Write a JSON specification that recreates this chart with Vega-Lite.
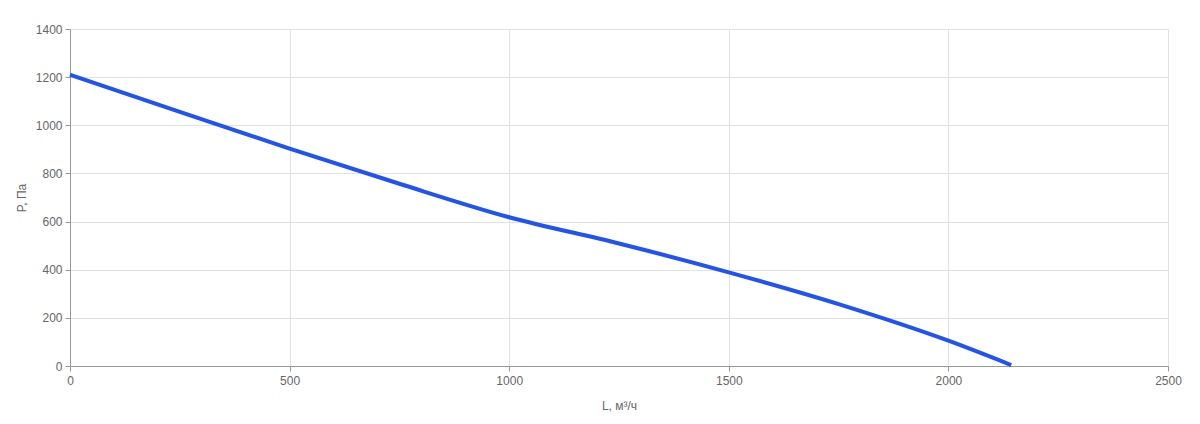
{
  "$schema": "https://vega.github.io/schema/vega-lite/v6.json",
  "width": 1098,
  "height": 337,
  "autosize": {"type": "none"},
  "padding": {"left": 70, "top": 29, "right": 32, "bottom": 58},
  "background": "white",
  "config": {
    "view": {"stroke": null},
    "font": "Liberation Sans",
    "axis": {
      "labelFont": "Liberation Sans",
      "titleFont": "Liberation Sans",
      "labelFontSize": 12,
      "titleFontSize": 12,
      "labelColor": "#666666",
      "titleColor": "#666666",
      "titleFontWeight": "normal",
      "domainColor": "#999999",
      "tickColor": "#999999",
      "gridColor": "#e2e2e2",
      "tickSize": 5,
      "labelFlush": false,
      "labelOverlap": false
    }
  },
  "data": {
    "values": [
      {"L": 0, "P": 1210},
      {"L": 250, "P": 1056},
      {"L": 500, "P": 903},
      {"L": 750, "P": 757},
      {"L": 1000, "P": 618},
      {"L": 1250, "P": 509},
      {"L": 1500, "P": 389},
      {"L": 1750, "P": 257},
      {"L": 2000, "P": 105},
      {"L": 2143, "P": 4}
    ]
  },
  "mark": {"type": "line", "color": "#2152F2", "strokeWidth": 4, "interpolate": "monotone"},
  "encoding": {
    "x": {
      "field": "L", "type": "quantitative", "title": "L, м³/ч",
      "scale": {"domain": [0, 2500], "nice": false},
      "axis": {"values": [0, 500, 1000, 1500, 2000, 2500], "format": "d", "titlePadding": 14, "labelPadding": 4}
    },
    "y": {
      "field": "P", "type": "quantitative", "title": "P, Па",
      "scale": {"domain": [0, 1400], "nice": false},
      "axis": {"values": [0, 200, 400, 600, 800, 1000, 1200, 1400], "format": "d", "titlePadding": 7, "labelPadding": 3}
    }
  }
}
